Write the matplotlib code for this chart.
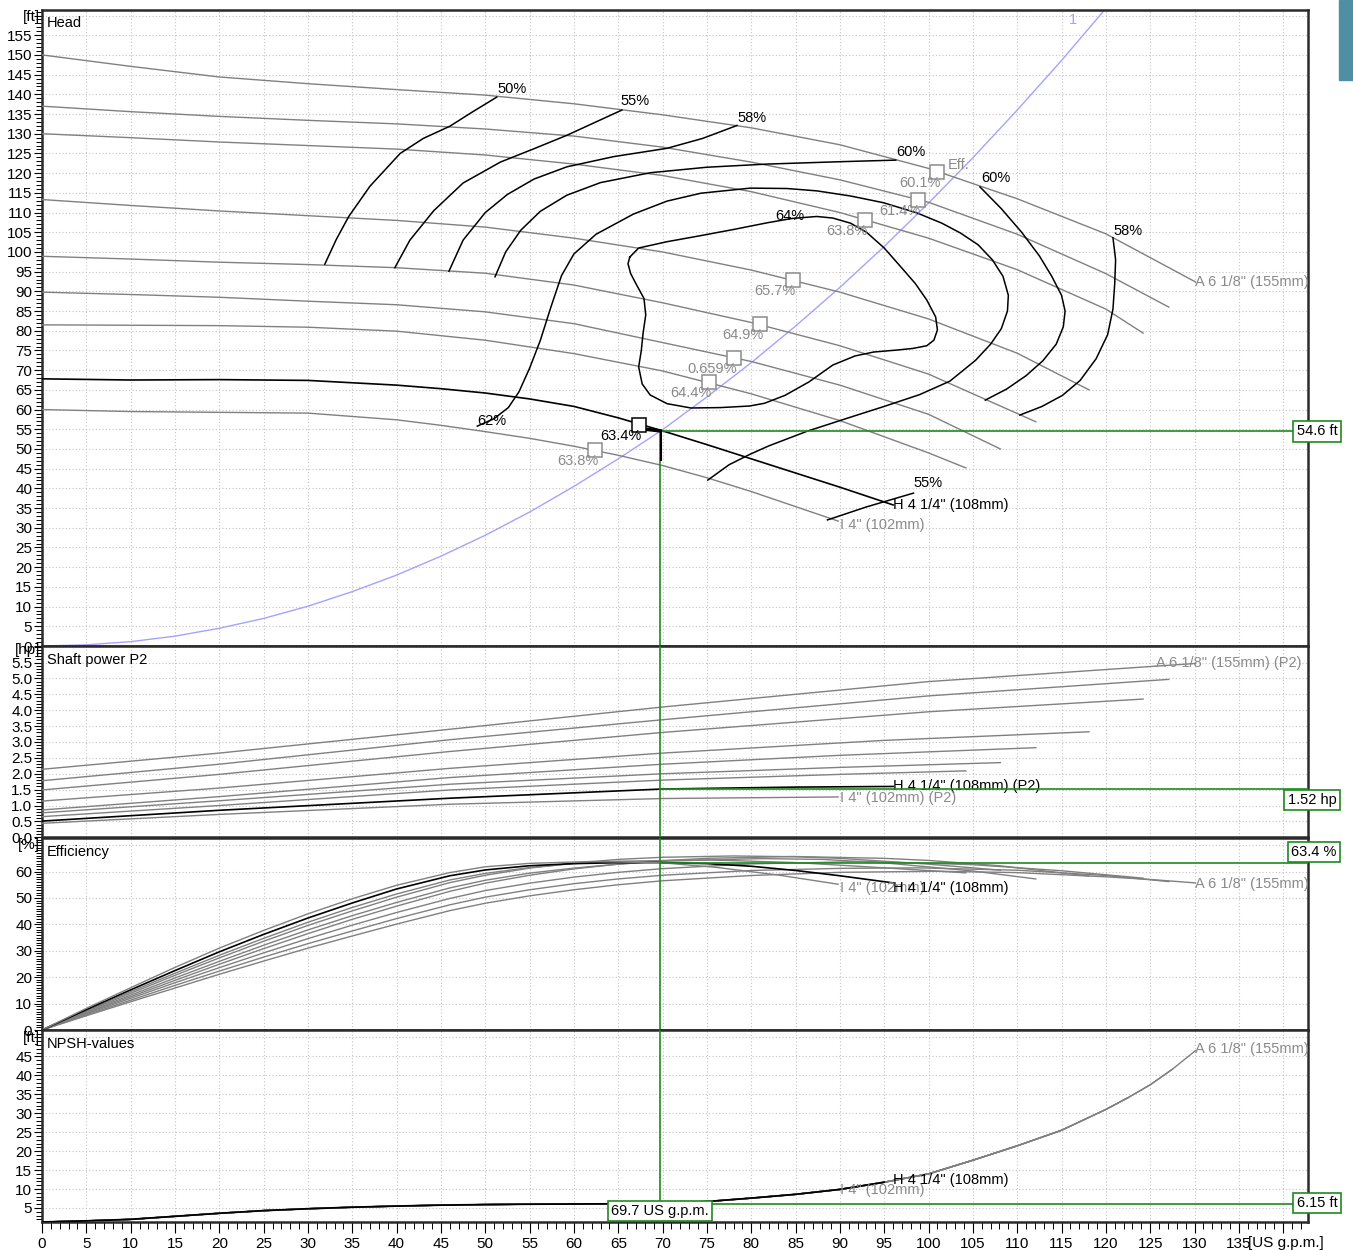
import matplotlib

matplotlib.use("Agg")
import matplotlib.pyplot as plt
import numpy as np
from matplotlib.ticker import MultipleLocator, FuncFormatter

plt.rcParams['font.family'] = ['Liberation Sans', 'DejaVu Sans']
plt.rcParams['font.size'] = 10.5

# ---- impeller curves (A = largest ... I = smallest), flow in US gpm ----
# head [ft]
head_q = [
    [0, 10, 20, 30, 40, 50, 60, 70, 80, 90, 100, 110, 120, 130.1],
    [0, 10, 20, 30, 40, 50, 60, 70, 80, 90, 100, 110, 120, 127.1],
    [0, 10, 20, 30, 40, 50, 60, 70, 80, 90, 100, 110, 120, 124.2],
    [0, 10, 20, 30, 40, 50, 60, 70, 80, 90, 100, 110, 118.1],
    [0, 10, 20, 30, 40, 50, 60, 70, 80, 90, 100, 112.1],
    [0, 10, 20, 30, 40, 50, 60, 70, 80, 90, 100, 108.1],
    [0, 10, 20, 30, 40, 50, 60, 70, 80, 90, 100, 104.2],
    [0, 10, 20, 30, 40, 45, 50, 55, 60, 65, 70, 75, 80, 85, 90, 96],
    [0, 10, 20, 30, 40, 45, 50, 55, 60, 65, 70, 75, 80, 89.8],
]
head_h = [
    [150, 147.1, 144.4, 142.7, 141.2, 139.8, 137.6, 134.8, 131.5, 127.2, 121.2, 113.5, 104.6, 92.4],
    [137, 135.6, 134.4, 133.4, 132.5, 131.2, 129.4, 126.6, 122.8, 118.3, 112.6, 104.5, 94.5, 86.0],
    [130, 129.0, 127.9, 127.0, 126.1, 124.6, 122.3, 119.4, 115.3, 110.0, 103.5, 95.5, 85.5, 79.4],
    [113.3, 111.8, 110.4, 109.2, 108.0, 106.3, 103.5, 100.0, 95.4, 89.8, 83.0, 74.3, 65.0],
    [98.9, 98.2, 97.4, 96.8, 96.0, 94.6, 91.6, 87.1, 82.1, 76.2, 69.0, 56.9],
    [89.8, 89.2, 88.5, 87.5, 86.6, 84.8, 81.8, 77.0, 72.2, 66.2, 58.8, 50.0],
    [81.5, 81.4, 81.3, 80.9, 79.9, 77.6, 74.2, 69.8, 64.0, 57.2, 49.0, 45.2],
    [67.8, 67.5, 67.6, 67.4, 66.2, 65.3, 64.2, 62.7, 60.8, 57.9, 54.6, 51.1, 47.5, 43.9, 40.3, 35.8],
    [60.0, 59.5, 59.3, 59.1, 57.4, 56.0, 54.4, 52.7, 50.7, 48.4, 45.8, 42.7, 39.2, 31.7],
]

# shaft power P2 [hp]
power_q = [
    [0, 20, 46, 70, 100, 130.1],
    [0, 20, 46, 70, 100, 127.1],
    [0, 20, 46, 70, 100, 124.2],
    [0, 20, 46, 70, 95, 118.1],
    [0, 20, 46, 70, 90, 112.1],
    [0, 20, 46, 70, 90, 108.1],
    [0, 20, 46, 70, 90, 104.2],
    [0, 20, 46, 70, 85, 96],
    [0, 20, 46, 70, 89.8],
]
power_p = [
    [2.14, 2.65, 3.40, 4.10, 4.90, 5.47],
    [1.78, 2.30, 3.07, 3.70, 4.45, 4.97],
    [1.49, 1.98, 2.70, 3.30, 3.95, 4.35],
    [1.14, 1.55, 2.17, 2.65, 3.05, 3.32],
    [0.86, 1.28, 1.88, 2.30, 2.58, 2.82],
    [0.77, 1.15, 1.67, 2.00, 2.20, 2.35],
    [0.65, 1.00, 1.49, 1.80, 1.98, 2.09],
    [0.51, 0.85, 1.23, 1.52, 1.58, 1.60],
    [0.44, 0.72, 1.04, 1.22, 1.27],
]

# efficiency [%]
eff_q = [
    [0, 5, 10, 15, 20, 25, 30, 35, 40, 46, 50, 55, 60, 65, 70, 80, 90, 101, 110, 120, 125, 130.1],
    [0, 5, 10, 15, 20, 25, 30, 35, 40, 46, 50, 55, 60, 65, 70, 80, 90, 98.8, 110, 120, 127.1],
    [0, 5, 10, 15, 20, 25, 30, 35, 40, 46, 50, 55, 60, 65, 70, 80, 92.8, 105, 115, 124.2],
    [0, 5, 10, 15, 20, 25, 30, 35, 40, 46, 50, 55, 60, 65, 70, 75, 84.7, 95, 100, 108, 118.1],
    [0, 5, 10, 15, 20, 25, 30, 35, 40, 46, 50, 55, 60, 65, 70, 81, 88, 95, 105, 112.1],
    [0, 5, 10, 15, 20, 25, 30, 35, 40, 46, 50, 55, 60, 65, 70, 78, 85, 90, 100, 108.1],
    [0, 5, 10, 15, 20, 25, 30, 35, 40, 46, 50, 55, 60, 65, 75.2, 85, 95, 104.2],
    [0, 5, 10, 15, 20, 25, 30, 35, 40, 46, 50, 55, 60, 65, 69.7, 75, 80, 85, 90, 96],
    [0, 5, 10, 15, 20, 25, 30, 35, 40, 46, 50, 55, 62, 70, 76, 83, 89.8],
]
eff_e = [
    [0, 5.4, 10.7, 15.9, 21.1, 26.1, 31.0, 35.6, 40.1, 45.2, 48.0, 50.8, 53.1, 55.0, 56.5, 58.5, 59.7, 60.1, 59.6, 58.0, 57.0, 55.7],
    [0, 5.7, 11.3, 16.9, 22.3, 27.6, 32.7, 37.5, 42.2, 47.4, 50.3, 53.1, 55.4, 57.2, 58.6, 60.4, 61.2, 61.4, 60.5, 58.5, 56.2],
    [0, 6.1, 12.0, 17.9, 23.6, 29.2, 34.6, 39.7, 44.5, 49.8, 52.8, 55.6, 57.9, 59.7, 61.1, 62.9, 63.8, 62.6, 60.3, 57.5],
    [0, 6.4, 12.6, 18.8, 24.9, 30.8, 36.5, 41.9, 46.9, 52.5, 55.6, 58.6, 61.0, 62.8, 64.1, 65.0, 65.7, 65.0, 64.2, 62.2, 58.3],
    [0, 6.7, 13.2, 19.7, 26.0, 32.1, 37.9, 43.3, 48.3, 53.8, 56.7, 59.4, 61.3, 62.8, 63.9, 64.9, 64.6, 63.3, 60.2, 57.2],
    [0, 7.0, 13.9, 20.7, 27.3, 33.6, 39.6, 45.1, 50.3, 55.8, 58.6, 61.3, 63.2, 64.6, 65.4, 65.9, 65.6, 65.0, 62.8, 60.5],
    [0, 7.3, 14.5, 21.5, 28.3, 34.7, 40.8, 46.4, 51.5, 56.8, 59.3, 61.5, 63.0, 63.9, 64.4, 63.4, 61.4, 59.5],
    [0, 7.7, 15.2, 22.5, 29.6, 36.2, 42.4, 48.1, 53.4, 58.4, 60.6, 62.2, 63.0, 63.35, 63.4, 63.0, 62.0, 60.4, 58.4, 55.7],
    [0, 8.2, 16.0, 23.7, 31.0, 37.7, 44.0, 49.7, 54.8, 59.6, 61.8, 63.1, 63.8, 63.3, 61.6, 58.7, 55.2],
]

# NPSH [ft] (one line for all impellers, cut at each curve end)
npsh_q = [0, 5, 10, 15, 20, 25, 30, 35, 40, 45, 50, 55, 60, 65, 70, 75, 80, 85, 90, 95, 100,
          105, 110, 115, 120, 122.5, 125, 127.5, 130.1]
npsh_v = [1.3, 1.6, 2.0, 2.8, 3.6, 4.3, 4.8, 5.2, 5.5, 5.75, 5.9, 6.0, 6.05, 6.1, 6.2, 6.7, 7.6,
          8.6, 9.9, 11.8, 14.0, 17.6, 21.4, 25.5, 31.0, 34.1, 37.5, 41.6, 46.5]
curve_end_q = [130.1, 127.1, 124.2, 118.1, 112.1, 108.1, 104.2, 96, 89.8]

# system curve "1"
sys_q = [0, 5, 10, 15, 20, 25, 30, 35, 40, 45, 50, 55, 60, 65, 70, 75, 80, 85, 90, 95, 100,
         105, 110, 115, 120]
sys_h = [0, 0.3, 1.1, 2.5, 4.5, 7.0, 10.1, 13.8, 18.0, 22.8, 28.1, 34.0, 40.5, 47.5, 54.9, 63.2,
         71.9, 81.2, 91.0, 101.4, 112.4, 123.9, 136.0, 148.6, 161.8]

# efficiency points on the system curve
bep_q = [101.0, 98.8, 92.8, 84.7, 81.0, 78.0, 75.2, 67.3, 62.4]
bep_h = [120.4, 113.3, 108.2, 93.0, 81.6, 73.2, 66.9, 56.2, 49.8]
bep_lbl = ['60.1%', '61.4%', '63.8%', '65.7%', '64.9%', '0.659%', '64.4%', '63.4%', '63.8%']

# iso-efficiency lines (Q, H)
iso_50 = [(31.9, 96.9), (33.2, 103.2), (34.6, 109), (37, 116.7), (40.4, 125), (43, 128.8),
          (46, 131.9), (48.6, 135.6), (51.3, 139.3)]
iso_55 = [(39.8, 96.0), (41.5, 103), (44.2, 110.5), (47.5, 117.5), (51.7, 122.8), (55.5, 126.2),
          (59.2, 129.6), (62.3, 132.8), (65.4, 136.0)]
iso_58a = [(45.9, 95.1), (47.5, 103.0), (50, 110.0), (52.5, 114.6), (55.5, 118.5), (59.2, 121.6),
           (64.5, 124.2), (70.5, 126.3), (74.5, 128.8), (78.4, 132.1)]
iso_60a = [(51.1, 93.7), (52.3, 100.0), (54, 105.5), (56.2, 110.3), (59.2, 114.4), (63, 117.6),
           (68.6, 120.1), (75, 121.5), (81.8, 122.3), (90, 122.9), (96.3, 123.3)]
iso_60b = [(105.8, 116.5), (108.2, 111.0), (110.5, 105.0), (112.5, 99.0), (113.9, 93.8),
           (115.0, 89.0), (115.4, 85.0), (115.2, 81), (114.4, 76.6), (112.9, 72.4),
           (111.0, 68.6), (108.8, 65.2), (106.4, 62.4)]
iso_58b = [(120.8, 103.6), (121.1, 98.0), (121, 92.0), (120.8, 85.5), (120.2, 79.0),
           (118.9, 72.9), (117.1, 67.4), (115.1, 63.6), (112.8, 60.8), (110.3, 58.6)]
iso_62 = [(49.1, 55.8), (51.0, 57.7), (52.6, 60.5), (53.8, 64.5), (55.0, 70.5), (56.2, 77.5),
          (57.4, 86.0), (58.6, 94.0), (60.0, 99.5), (62.5, 104.5), (66.7, 109.6), (70.5, 112.9),
          (74.3, 114.9), (79.9, 116.2), (84, 116.1), (87.4, 115.5), (91.2, 114.2), (94.9, 112.5),
          (98.7, 109.9), (101.5, 107.3), (103.6, 104.8), (105.6, 101.8), (107.2, 98.0),
          (108.4, 93.8), (109.0, 89.0), (108.9, 85.0), (108.2, 80.5), (107.0, 76.6), (105.3, 72.5),
          (102.4, 67.2), (99.0, 63.8), (95.0, 60.8), (91.1, 58.0), (86.3, 54.5), (82.0, 50.8),
          (79.9, 48.7), (77.5, 46.0), (75.1, 42.1)]
iso_64 = [(66.3, 98.7), (67.3, 101.0), (70.5, 102.6), (74.2, 104.1), (78.0, 105.7), (81.8, 107.4),
          (84.6, 108.5), (87.4, 109.0), (89.2, 108.6), (91.2, 107.3), (93.0, 105.0), (95.0, 101.0),
          (96.8, 96.4), (98.5, 92.0), (99.8, 87.8), (100.8, 83.5), (101.0, 80.2), (100.6, 77.6),
          (99.8, 76.2), (98.2, 75.5), (96.4, 75.1), (93.8, 74.6), (91.7, 73.6), (89.2, 71.3),
          (86.5, 67.0), (83.8, 63.6), (81.5, 61.6), (79.8, 60.9), (76.5, 60.5), (73.2, 60.4),
          (70.5, 61.5), (68.6, 63.7), (67.7, 66.5), (67.3, 70.8), (67.6, 75.0), (67.8, 79.4),
          (68.1, 84.0), (67.9, 88.2), (67.1, 91.5), (66.4, 94.5), (66.1, 97.0), (66.3, 98.7)]
iso_55b = [(88.6, 32.0), (93.0, 35.3), (98.3, 38.8)]
iso_lines = [iso_50, iso_55, iso_58a, iso_60a, iso_60b, iso_58b, iso_62, iso_64, iso_55b]
iso_text = ['50%', '55%', '58%', '60%', '60%', '58%', '64%', '62%', '55%']
iso_text_q = [51.4, 65.3, 78.4, 96.4, 105.9, 120.9, 82.7, 49.1, 98.3]
iso_text_h = [141.4, 138.3, 134.0, 125.4, 118.8, 105.3, 109.1, 57.1, 41.4]

# duty point
duty_q = 69.7
duty_head = 54.6
duty_power = 1.52
duty_eff = 63.4
duty_npsh = 6.15

GRAY = '#808080'
TGRAY = '#8a8a8a'
GREEN = '#1f8a1f'
BLUE = '#a3a3ff'
W, H = 1353, 1251
XMAX = 142.8


def fx(px):
    return px / W


def fy(py):
    return 1 - py / H


def add_panel(top, bottom):
    return fig.add_axes([fx(42), fy(bottom), fx(1308) - fx(42), (bottom - top) / H])


def style(ax, ylim, major, minor, shown_max, fmt, bottom=False):
    ax.set_xlim(0, XMAX)
    ax.set_ylim(*ylim)
    ax.xaxis.set_major_locator(MultipleLocator(5))
    ax.xaxis.set_minor_locator(MultipleLocator(1))
    ax.yaxis.set_major_locator(MultipleLocator(major))
    ax.yaxis.set_minor_locator(MultipleLocator(minor))
    ax.yaxis.set_major_formatter(FuncFormatter(
        lambda v, p: (fmt % v) if v <= shown_max + 1e-6 else ''))
    ax.xaxis.set_major_formatter(FuncFormatter(
        lambda v, p: '%d' % v if v <= 135 else ''))
    ax.grid(True, which='major', ls=(0, (1, 2)), color='#c4c4c4', lw=0.8)
    ax.set_axisbelow(True)
    ax.tick_params(axis='y', which='major', direction='out', length=6, width=0.8, pad=1, labelsize=11)
    ax.tick_params(axis='y', which='minor', direction='out', length=4, width=0.7)
    ax.tick_params(axis='x', which='major', direction='out', length=8, width=0.8,
                   bottom=bottom, labelbottom=bottom, labelsize=11, pad=3)
    ax.tick_params(axis='x', which='minor', direction='out', length=5, width=0.7, bottom=bottom)
    for s in ax.spines.values():
        s.set_linewidth(1.8)
        s.set_color('#2a2a2a')


fig = plt.figure(figsize=(W / 100, H / 100), dpi=100)
ax_h = add_panel(10, 646)
ax_p = add_panel(646, 837.3)
ax_e = add_panel(838, 1030)
ax_n = add_panel(1030, 1222)

style(ax_h, (0, 161.4), 5, 1, 155, '%d')
style(ax_p, (0, 6.02), 0.5, 0.1, 5.5, '%.1f')
style(ax_e, (0, 72.7), 10, 1, 60, '%d')
style(ax_n, (1.3, 51.96), 5, 1, 45, '%d', bottom=True)

# ---- head panel ----
ax_h.plot(sys_q, sys_h, color=BLUE, lw=1.0, zorder=2)
ax_h.text(116.3, 158.9, '1', color=BLUE, ha='center', va='center')
for i, (q, h) in enumerate(zip(head_q, head_h)):
    black = (i == 7)
    ax_h.plot(q, h, color='black' if black else GRAY, lw=1.2 if black else 1.0, zorder=3)
for line in iso_lines:
    arr = np.array(line)
    ax_h.plot(arr[:, 0], arr[:, 1], color='black', lw=1.1, zorder=4)
for t, q, h in zip(iso_text, iso_text_q, iso_text_h):
    ax_h.text(q, h, t, ha='left', va='center', zorder=6)
for i, (q, h, t) in enumerate(zip(bep_q, bep_h, bep_lbl)):
    c = 'black' if i == 7 else TGRAY
    ax_h.plot(q, h, marker='s', ms=10, mfc='white', mec='black' if i == 7 else '#8c8c8c',
              mew=1.1, zorder=7)
    ax_h.annotate(t, (q, h), xytext=(3, -11), textcoords='offset pixels', ha='right', va='center',
                  color=c, zorder=8)
ax_h.annotate('Eff.', (bep_q[0], bep_h[0]), xytext=(10, 7), textcoords='offset pixels',
              ha='left', va='center', color=TGRAY, zorder=8)
ax_h.text(head_q[0][-1], head_h[0][-1], 'A 6 1/8" (155mm)', color=TGRAY, ha='left', va='center')
ax_h.text(head_q[7][-1], head_h[7][-1], 'H 4 1/4" (108mm)', color='black', ha='left', va='center')
ax_h.text(head_q[8][-1] + 0.2, head_h[8][-1] - 1.0, 'I 4" (102mm)', color=TGRAY, ha='left', va='center')
# duty point marker
ax_h.plot([bep_q[7] + 0.8, duty_q], [duty_head + 0.4, duty_head], color='black', lw=2.5, zorder=6)
ax_h.plot([duty_q + 0.15, duty_q + 0.15], [duty_head, 47.2], color='black', lw=1.5, zorder=6)

# ---- power panel ----
for i, (q, p) in enumerate(zip(power_q, power_p)):
    black = (i == 7)
    ax_p.plot(q, p, color='black' if black else GRAY, lw=1.2 if black else 1.0, zorder=3)
ax_p.text(125.7, 5.48, 'A 6 1/8" (155mm) (P2)', color=TGRAY, ha='left', va='center', zorder=5)
ax_p.text(96.0, 1.60, 'H 4 1/4" (108mm) (P2)', color='black', ha='left', va='center', zorder=5)
ax_p.text(90.0, 1.24, 'I 4" (102mm) (P2)', color=TGRAY, ha='left', va='center', zorder=5)

# ---- efficiency panel ----
for i, (q, e) in enumerate(zip(eff_q, eff_e)):
    black = (i == 7)
    ax_e.plot(q, e, color='black' if black else GRAY, lw=1.2 if black else 1.0, zorder=3)
ax_e.text(130.1, 55.3, 'A 6 1/8" (155mm)', color=TGRAY, ha='left', va='center', zorder=5)
ax_e.text(90.0, 53.9, 'I 4" (102mm)', color=TGRAY, ha='left', va='center', zorder=5)
ax_e.text(96.0, 53.9, 'H 4 1/4" (108mm)', color='black', ha='left', va='center', zorder=5)

# ---- NPSH panel ----
nq = np.array(npsh_q)
nv = np.array(npsh_v)
for i in [0, 1, 2, 3, 4, 5, 6, 8, 7]:
    m = nq <= curve_end_q[i] + 0.5
    black = (i == 7)
    ax_n.plot(nq[m], nv[m], color='black' if black else GRAY, lw=1.3 if black else 1.0, zorder=3)
ax_n.text(130.1, 46.9, 'A 6 1/8" (155mm)', color=TGRAY, ha='left', va='center', zorder=5)
ax_n.text(90.0, 9.7, 'I 4" (102mm)', color=TGRAY, ha='left', va='center', zorder=5)
ax_n.text(96.0, 12.4, 'H 4 1/4" (108mm)', color='black', ha='left', va='center', zorder=5)

# ---- duty point guides ----
ax_h.plot([duty_q, duty_q], [0, duty_head], color=GREEN, lw=1.2, zorder=5)
ax_h.plot([duty_q, XMAX], [duty_head, duty_head], color=GREEN, lw=1.2, zorder=5)
for ax, val in [(ax_p, duty_power), (ax_e, duty_eff), (ax_n, duty_npsh)]:
    ax.axvline(duty_q, color=GREEN, lw=1.2, zorder=5)
    ax.plot([duty_q, XMAX], [val, val], color=GREEN, lw=1.2, zorder=5)

box = dict(boxstyle='square,pad=0.22', fc='white', ec=GREEN, lw=1.2)
fig.text(fx(1317), fy(431.5), '%.1f ft' % duty_head, ha='center', va='center', bbox=box)
fig.text(fx(1312), fy(800), '%.2f hp' % duty_power, ha='center', va='center', bbox=box)
fig.text(fx(1314), fy(852), '%.1f %%' % duty_eff, ha='center', va='center', bbox=box)
fig.text(fx(1317), fy(1203), '%.2f ft' % duty_npsh, ha='center', va='center', bbox=box)
fig.text(fx(660), fy(1211), '%.1f US g.p.m.' % duty_q, ha='center', va='center', bbox=box)

# ---- panel titles, unit labels ----
for py, t in [(23, 'Head'), (660, 'Shaft power P2'), (852, 'Efficiency'), (1044, 'NPSH-values')]:
    fig.text(fx(47), fy(py), t, ha='left', va='center')
for py, t in [(17, '[ft]'), (650, '[hp]'), (845, '[%]'), (1038, '[ft]')]:
    fig.text(fx(40), fy(py), t, ha='right', va='center', fontsize=11)
fig.text(fx(1248), fy(1243), '[US g.p.m.]', ha='left', va='center', fontsize=11)

# corner tab
fig.patches.append(plt.Rectangle((fx(1339), fy(80)), fx(14), 80 / H, transform=fig.transFigure,
                                 color='#4f8fa3', zorder=0))

fig.savefig('out.png', dpi=100)
plt.close(fig)
